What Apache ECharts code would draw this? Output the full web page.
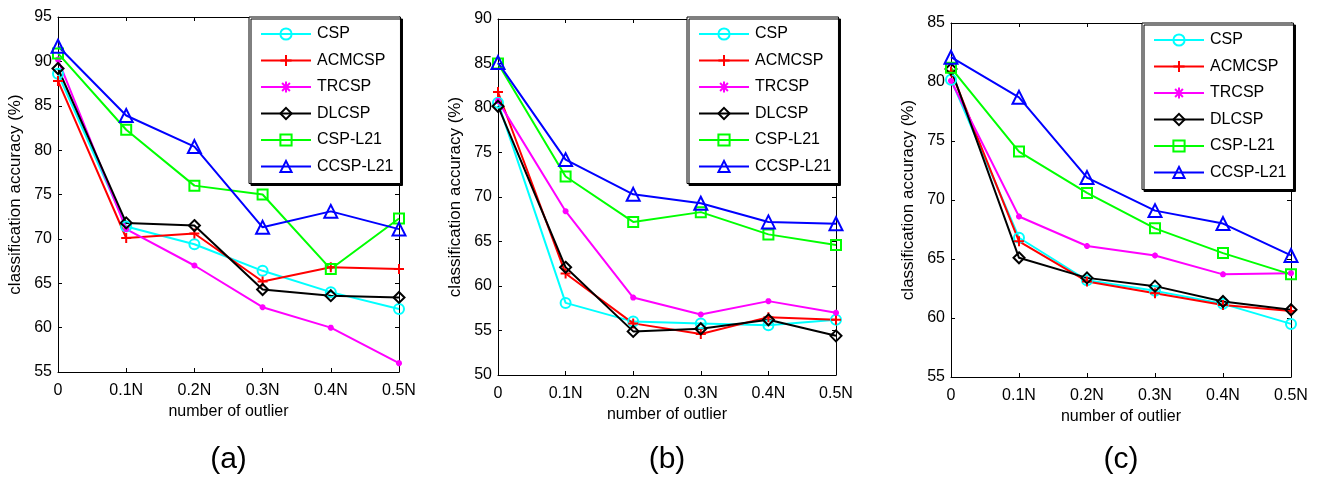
<!DOCTYPE html>
<html>
<head>
<meta charset="utf-8">
<title>Classification accuracy vs. number of outliers</title>
<script src="https://cdn.jsdelivr.net/npm/echarts@6/dist/echarts.min.js"></script>
<style>
  html, body { margin: 0; padding: 0; background: #fff; }
  #chart { width: 1318px; height: 477px; }
</style>
</head>
<body>
<div id="chart"></div>
<script>
// Outlier levels on the x axis
const categories = ['0', '0.1N', '0.2N', '0.3N', '0.4N', '0.5N'];
const methods = ['CSP', 'ACMCSP', 'TRCSP', 'DLCSP', 'CSP-L21', 'CCSP-L21'];

// Panel (a) accuracies (%)
const aCSP     = [88.6, 71.4, 69.4, 66.4, 64.0, 62.1];
const aACMCSP  = [87.8, 70.1, 70.6, 65.2, 66.8, 66.6];
const aTRCSP   = [90.2, 71.1, 67.0, 62.3, 60.0, 56.0];
const aDLCSP   = [89.2, 71.8, 71.5, 64.3, 63.6, 63.4];
const aCSPL21  = [90.9, 82.3, 76.0, 75.0, 66.6, 72.3];
const aCCSPL21 = [91.7, 83.9, 80.4, 71.3, 73.1, 71.1];

// Panel (b) accuracies (%)
const bCSP     = [80.6, 58.1, 56.0, 55.8, 55.6, 56.2];
const bACMCSP  = [81.8, 61.4, 55.8, 54.6, 56.5, 56.2];
const bTRCSP   = [80.8, 68.4, 58.7, 56.8, 58.3, 57.0];
const bDLCSP   = [80.2, 62.1, 54.9, 55.2, 56.2, 54.4];
const bCSPL21  = [85.0, 72.3, 67.2, 68.3, 65.8, 64.6];
const bCCSPL21 = [85.1, 74.2, 70.3, 69.3, 67.2, 67.0];

// Panel (c) accuracies (%)
const cCSP     = [80.2, 66.8, 63.2, 62.3, 61.2, 59.5];
const cACMCSP  = [80.9, 66.5, 63.1, 62.1, 61.1, 60.6];
const cTRCSP   = [80.1, 68.6, 66.1, 65.3, 63.7, 63.8];
const cDLCSP   = [81.1, 65.1, 63.4, 62.7, 61.4, 60.7];
const cCSPL21  = [81.2, 74.1, 70.6, 67.6, 65.5, 63.7];
const cCCSPL21 = [82.1, 78.7, 71.9, 69.1, 68.0, 65.3];

// y ranges per panel
const yMin = [55, 50, 55];
const yMax = [95, 90, 85];
const panelLabels = ['(a)', '(b)', '(c)'];

const FONT = 'Liberation Sans, Arial, Helvetica, sans-serif';

// line colour, marker shape and marker size per method
const styles = [
  { color: '#00FFFF', symbol: 'circle', size: 10 },
  { color: '#FF0000', symbol: 'path://M0,-1L0,1M-1,0L1,0', size: 10 },
  { color: '#FF00FF', symbol: 'path://M0,-1L0,1M-1,0L1,0M-0.7,-0.7L0.7,0.7M-0.7,0.7L0.7,-0.7', size: 6 },
  { color: '#000000', symbol: 'path://M0,-1L1,0L0,1L-1,0Z', size: 11 },
  { color: '#00FF00', symbol: 'rect', size: 10 },
  { color: '#0000FF', symbol: 'path://M0,-1L1,0.75L-1,0.75Z', size: 13 }
];

const panelData = [
  [aCSP, aACMCSP, aTRCSP, aDLCSP, aCSPL21, aCCSPL21],
  [bCSP, bACMCSP, bTRCSP, bDLCSP, bCSPL21, bCCSPL21],
  [cCSP, cACMCSP, cTRCSP, cDLCSP, cCSPL21, cCCSPL21]
];

// plot-box geometry of the three panels
const grids = [
  { left: 58,  top: 17, width: 341, height: 355 },
  { left: 498, top: 19, width: 338, height: 356 },
  { left: 951, top: 23, width: 340, height: 354 }
];
const legendPos = [
  { left: 249, top: 17 },
  { left: 687, top: 17 },
  { left: 1142, top: 23 }
];

const xAxes = [], yAxes = [], series = [], legends = [], graphics = [];

grids.forEach((g, p) => {
  // bottom x axis with labels
  xAxes.push({
    type: 'category', gridIndex: p, data: categories, boundaryGap: false, position: 'bottom',
    name: 'number of outlier', nameLocation: 'middle', nameGap: 31,
    nameTextStyle: { fontFamily: FONT, fontSize: 16, color: '#000' },
    axisLine: { lineStyle: { color: '#000', width: 1 } },
    axisTick: { inside: true, length: 4, lineStyle: { color: '#000' } },
    axisLabel: { fontFamily: FONT, fontSize: 16, color: '#000', margin: 11 },
    splitLine: { show: false }
  });
  // top x axis: frame edge with ticks only
  xAxes.push({
    type: 'category', gridIndex: p, data: categories, boundaryGap: false, position: 'top',
    axisLine: { lineStyle: { color: '#000', width: 1 } },
    axisTick: { inside: true, length: 4, lineStyle: { color: '#000' } },
    axisLabel: { show: false }, splitLine: { show: false }
  });
  // left y axis with labels
  yAxes.push({
    type: 'value', gridIndex: p, min: yMin[p], max: yMax[p], interval: 5, position: 'left',
    name: 'classification accuracy (%)', nameLocation: 'middle', nameGap: 34, nameRotate: 90,
    nameTextStyle: { fontFamily: FONT, fontSize: 17, color: '#000' },
    axisLine: { show: true, lineStyle: { color: '#000', width: 1 } },
    axisTick: { show: true, inside: true, length: 4, lineStyle: { color: '#000' } },
    axisLabel: { fontFamily: FONT, fontSize: 16, color: '#000', margin: 6 },
    splitLine: { show: false }
  });
  // right y axis: frame edge with ticks only
  yAxes.push({
    type: 'value', gridIndex: p, min: yMin[p], max: yMax[p], interval: 5, position: 'right',
    axisLine: { show: true, lineStyle: { color: '#000', width: 1 } },
    axisTick: { show: true, inside: true, length: 4, lineStyle: { color: '#000' } },
    axisLabel: { show: false }, splitLine: { show: false }
  });

  methods.forEach((m, k) => {
    const st = styles[k];
    series.push({
      name: m, type: 'line',
      xAxisIndex: p * 2, yAxisIndex: p * 2,
      data: panelData[p][k],
      symbol: st.symbol, symbolSize: st.size, showAllSymbol: true,
      color: st.color,
      lineStyle: { color: st.color, width: 2 },
      itemStyle: { color: 'rgba(0,0,0,0)', borderColor: st.color, borderWidth: 2 },
      emphasis: { disabled: true },
      clip: false,
      animation: false
    });
  });

  legends.push({
    data: methods,
    orient: 'vertical',
    left: legendPos[p].left, top: legendPos[p].top,
    padding: [9, 7, 9, 11],
    itemWidth: 50, itemHeight: 14, itemGap: 10.5,
    backgroundColor: '#fff',
    borderColor: '#000', borderWidth: 1, borderRadius: 0,
    shadowColor: '#000', shadowBlur: 0, shadowOffsetX: 2, shadowOffsetY: 2,
    textStyle: { fontFamily: FONT, fontSize: 16, color: '#000', padding: [0, 0, 0, 1] },
    selectedMode: false
  });

  graphics.push({
    type: 'text',
    x: g.left + g.width / 2, y: 460,
    style: {
      text: panelLabels[p], font: '30px ' + FONT, fill: '#000',
      textAlign: 'center', textVerticalAlign: 'middle'
    }
  });
});

const chart = echarts.init(document.getElementById('chart'), null, { renderer: 'canvas' });
chart.setOption({
  backgroundColor: '#fff',
  animation: false,
  grid: grids.map(g => Object.assign({ containLabel: false }, g)),
  xAxis: xAxes,
  yAxis: yAxes,
  legend: legends,
  series: series,
  graphic: graphics
});
</script>
</body>
</html>
